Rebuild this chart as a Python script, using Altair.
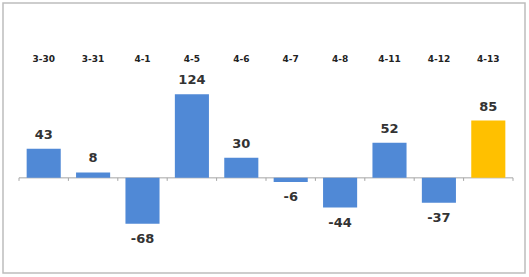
import altair as alt
import pandas as pd

dates = ["3-30", "3-31", "4-1", "4-5", "4-6", "4-7", "4-8", "4-11", "4-12", "4-13"]
values = [43, 8, -68, 124, 30, -6, -44, 52, -37, 85]
colors = ["#5089d6"] * 9 + ["#ffc000"]

df = pd.DataFrame({"date": dates, "value": values, "color": colors})

W, H = 494, 182
STEP = W / 10.0
xscale = alt.Scale(domain=dates, paddingInner=0.31, paddingOuter=0.155)
yscale = alt.Scale(domain=[-110, 160], nice=False, zero=False)

x_axis = alt.Axis(orient="top", title=None, labelAngle=0, domain=False,
                  ticks=False, labelFont="DejaVu Sans", labelFontWeight="bold",
                  labelFontSize=9, labelColor="#222", labelPadding=7)

base = alt.Chart(df)

bars = base.mark_bar().encode(
    x=alt.X("date:N", scale=xscale, axis=x_axis),
    y=alt.Y("value:Q", scale=yscale, axis=None),
    color=alt.Color("color:N", scale=None),
)

pos_text = base.transform_filter("datum.value >= 0").transform_calculate(
    label="'' + datum.value"
).mark_text(
    font="DejaVu Sans", fontWeight="bold", fontSize=13, color="#333",
    baseline="middle", dy=-14
).encode(x=alt.X("date:N", axis=x_axis), y=alt.Y("value:Q", axis=None),
         text=alt.Text("label:N"))

neg_text = base.transform_filter("datum.value < 0").transform_calculate(
    label="'' + datum.value"
).mark_text(
    font="DejaVu Sans", fontWeight="bold", fontSize=13, color="#333",
    baseline="middle", dy=15
).encode(x=alt.X("date:N", axis=x_axis), y=alt.Y("value:Q", axis=None),
         text=alt.Text("label:N"))

zero_df = pd.DataFrame({"v": [0]})
zero_line = alt.Chart(zero_df).mark_rule(color="#a6a6a6", strokeWidth=1).encode(
    y=alt.Y("v:Q", axis=None)
)

tick_df = pd.DataFrame({"date": dates, "v": [0] * 10, "t": [-4.5] * 10})
tick_marks = alt.Chart(tick_df).mark_rule(
    color="#a6a6a6", strokeWidth=1, xOffset=-STEP / 2
).encode(x=alt.X("date:N", axis=x_axis), y=alt.Y("v:Q", axis=None), y2=alt.Y2("t:Q"))
end_tick = alt.Chart(tick_df.tail(1)).mark_rule(
    color="#a6a6a6", strokeWidth=1, xOffset=STEP / 2
).encode(x=alt.X("date:N", axis=x_axis), y=alt.Y("v:Q", axis=None), y2=alt.Y2("t:Q"))

border = alt.Chart(zero_df).mark_rect(
    fillOpacity=0, stroke="#bdbdbd", strokeWidth=1.5
).encode(x=alt.value(-16), x2=alt.value(506), y=alt.value(-67), y2=alt.value(203))

chart = alt.layer(border, zero_line, tick_marks, end_tick, bars, pos_text, neg_text).properties(
    width=W, height=H,
    title=alt.TitleParams("沪深两市融资余额每日变动（亿元）", font="Noto Sans CJK SC",
                          fontSize=15, fontWeight="bold", color="#222",
                          anchor="middle", dx=10, offset=25),
    autosize=alt.AutoSizeParams(type="none"),
    padding={"left": 19, "top": 70, "right": 16, "bottom": 25},
    background="white",
).configure_view(stroke=None)

chart.save("out.html", embed_options={"renderer": "svg", "actions": False})
